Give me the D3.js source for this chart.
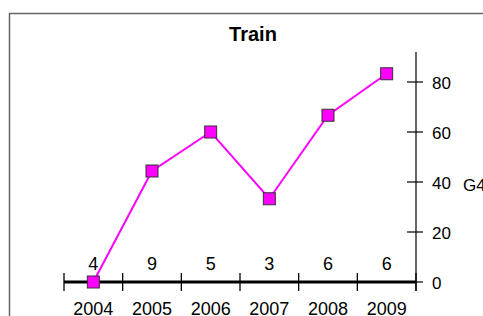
<!DOCTYPE html>
<html>
<head>
<meta charset="utf-8">
<script src="https://cdn.jsdelivr.net/npm/d3@7"></script>
<style>
  body { margin: 0; background: #fff; }
  #graph { width: 483px; height: 316px; }
  text { font-family: "Liberation Sans", Arial, sans-serif; }
</style>
</head>
<body>
<div id="graph"></div>
<script>
var years  = ["2004", "2005", "2006", "2007", "2008", "2009"]
var values = [0, 44.4, 60, 33.3, 66.7, 83.3]
var counts = [4, 9, 5, 3, 6, 6]
var yTicks = [0, 20, 40, 60, 80]

var width = 483, height = 316
var svg = d3.select("#graph").append("svg")
            .attr("width", width).attr("height", height)

// frame, cut off at right and bottom
svg.append("path")
   .attr("d", "M9.5," + height + "V13.5H" + width)
   .attr("fill", "none")
   .attr("stroke", "#666")
   .attr("stroke-width", 1.5)

svg.append("text")
   .attr("x", 253).attr("y", 41)
   .attr("text-anchor", "middle")
   .style("font-size", "20px").style("font-weight", "bold")
   .text("Train")

var x = d3.scaleBand().domain(years).range([64, 416])
var y = d3.scaleLinear().domain([0, 92]).range([282, 52])

// x axis: thick base line with band boundary ticks
svg.append("line")
   .attr("x1", 64).attr("x2", 416)
   .attr("y1", y(0)).attr("y2", y(0))
   .attr("stroke", "#000").attr("stroke-width", 3)

var bounds = years.map(function(d) { return x(d) }).concat([x.range()[1]])
svg.selectAll(".xtick").data(bounds).enter().append("line")
   .attr("x1", function(d) { return d }).attr("x2", function(d) { return d })
   .attr("y1", y(0) - 9).attr("y2", y(0) + 9)
   .attr("stroke", "#000").attr("stroke-width", 1.3)

svg.selectAll(".xlab").data(years).enter().append("text")
   .attr("x", function(d) { return x(d) + x.bandwidth()/2 })
   .attr("y", 315)
   .attr("text-anchor", "middle")
   .style("font-size", "18px")
   .text(function(d) { return d })

svg.selectAll(".count").data(counts).enter().append("text")
   .attr("x", function(d, i) { return x(years[i]) + x.bandwidth()/2 })
   .attr("y", 270)
   .attr("text-anchor", "middle")
   .style("font-size", "18px")
   .text(function(d) { return d })

// right y axis
var yAxis = svg.append("g")
yAxis.append("line")
     .attr("x1", 416).attr("x2", 416)
     .attr("y1", y.range()[1]).attr("y2", y(0) + 9)
     .attr("stroke", "#000").attr("stroke-width", 1.2)
yAxis.selectAll(".ytick").data(yTicks).enter().append("line")
     .attr("x1", 407).attr("x2", 423)
     .attr("y1", function(d) { return y(d) }).attr("y2", function(d) { return y(d) })
     .attr("stroke", "#000").attr("stroke-width", 1.2)
yAxis.selectAll(".ylab").data(yTicks).enter().append("text")
     .attr("x", 432)
     .attr("y", function(d) { return y(d) + 6.5 })
     .style("font-size", "17px")
     .text(function(d) { return d })
svg.append("text")
   .attr("x", 463).attr("y", 191)
   .style("font-size", "17px")
   .text("G4")

// series
var line = d3.line()
             .x(function(d, i) { return x(years[i]) + x.bandwidth()/2 })
             .y(function(d) { return y(d) })

svg.append("path")
   .attr("d", line(values))
   .attr("fill", "none")
   .attr("stroke", "#ff00ff")
   .attr("stroke-width", 2)

svg.selectAll(".pt").data(values).enter().append("rect")
   .attr("x", function(d, i) { return x(years[i]) + x.bandwidth()/2 - 6 })
   .attr("y", function(d) { return y(d) - 6 })
   .attr("width", 12).attr("height", 12)
   .attr("fill", "#ff00ff")
   .attr("stroke", "#333")
   .attr("stroke-width", 1)
</script>
</body>
</html>
